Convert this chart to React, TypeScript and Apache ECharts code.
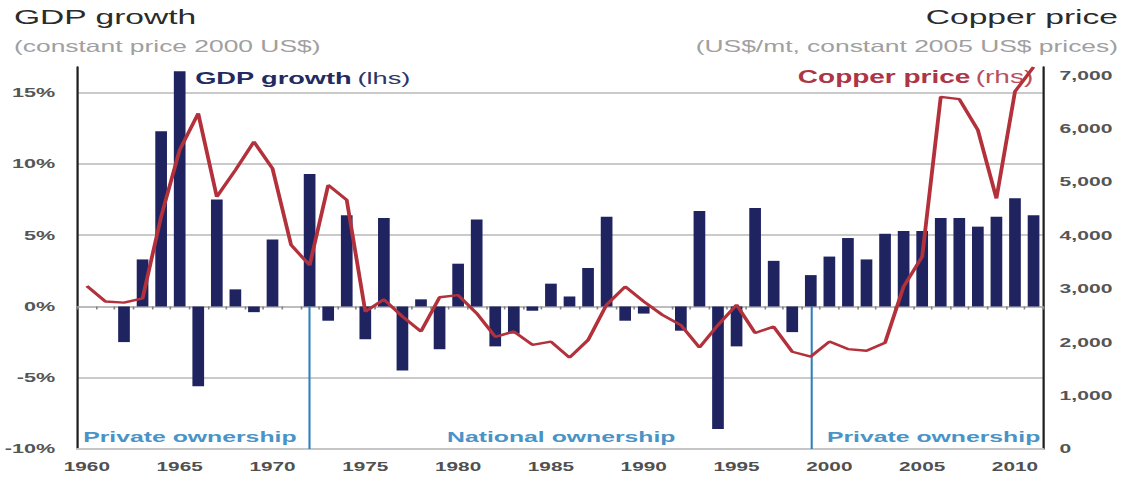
import React, { useEffect, useRef } from "react";
import * as echarts from "echarts";

const years = [
  "1960", "1961", "1962", "1963", "1964", "1965", "1966", "1967", "1968", "1969",
  "1970", "1971", "1972", "1973", "1974", "1975", "1976", "1977", "1978", "1979",
  "1980", "1981", "1982", "1983", "1984", "1985", "1986", "1987", "1988", "1989",
  "1990", "1991", "1992", "1993", "1994", "1995", "1996", "1997", "1998", "1999",
  "2000", "2001", "2002", "2003", "2004", "2005", "2006", "2007", "2008", "2009",
  "2010", "2011",
];

// GDP growth, % (lhs)
const gdpGrowth = [
  0, 0, -2.5, 3.3, 12.3, 16.5, -5.6, 7.5, 1.2, -0.4,
  4.7, 0, 9.3, -1.0, 6.4, -2.3, 6.2, -4.5, 0.5, -3.0,
  3.0, 6.1, -2.8, -1.9, -0.3, 1.6, 0.7, 2.7, 6.3, -1.0,
  -0.5, 0, -1.7, 6.7, -8.6, -2.8, 6.9, 3.2, -1.8, 2.2,
  3.5, 4.8, 3.3, 5.1, 5.3, 5.3, 6.2, 6.2, 5.6, 6.3,
  7.6, 6.4,
];

// Copper price, US$/mt constant 2005 prices (rhs)
const copperPrice = [
  3050, 2760, 2740, 2820, 4350, 5600, 6280, 4720, 5220, 5750,
  5250, 3820, 3440, 4940, 4660, 2570, 2800, 2480, 2200, 2840,
  2880, 2540, 2100, 2200, 1950, 2010, 1710, 2040, 2700, 3040,
  2760, 2510, 2320, 1900, 2320, 2700, 2170, 2290, 1820, 1730,
  2010, 1870, 1840, 1990, 3040, 3600, 6590, 6550, 5970, 4690,
  6690, 7150,
];

const ownershipBreaks = ["1972", "1999"];
const ownershipLabels = ["Private ownership", "National ownership", "Private ownership"];

const STRETCH = 1126 / 704;
const INNER_W = 704;
const FONT = '"Liberation Sans", Arial, Helvetica, sans-serif';

export default function App() {
  const ref = useRef<HTMLDivElement>(null);

  useEffect(() => {
    if (!ref.current) return;
    const chart = echarts.init(ref.current, null, { renderer: "svg" });

    const option: any = {
      animation: false,
      backgroundColor: "#ffffff",
      grid: { left: 47.5, right: 52, top: 67, bottom: 30 },
      xAxis: [
        {
          type: "category",
          data: years,
          boundaryGap: true,
          position: "bottom",
          axisLine: { show: true, onZero: true, lineStyle: { color: "#b8b8b8", width: 1.5 } },
          axisTick: { show: true, interval: 0, length: 3, lineStyle: { color: "#808080", width: 1 } },
          axisLabel: { show: false },
          splitLine: { show: false },
        },
        {
          type: "category",
          data: years,
          boundaryGap: true,
          position: "bottom",
          axisLine: { show: true, onZero: false, lineStyle: { color: "#c6c6c6", width: 2 } },
          axisTick: { show: false },
          axisLabel: {
            interval: 4,
            color: "#505050",
            fontSize: 13,
            fontWeight: "bold",
            fontFamily: FONT,
            margin: 11,
          },
          splitLine: { show: false },
        },
      ],
      yAxis: [
        {
          type: "value",
          position: "left",
          min: -10,
          max: 16.8,
          interval: 5,
          axisLine: { show: true, lineStyle: { color: "#1e1e1e", width: 1.4 } },
          axisTick: { show: false },
          axisLabel: {
            formatter: (v: number) => (Math.abs(v % 5) < 1e-9 ? `${v}%` : ""),
            color: "#555555",
            fontSize: 13.5,
            fontWeight: "bold",
            fontFamily: FONT,
            margin: 14,
          },
          splitLine: {
            show: true,
            showMinLine: false,
            showMaxLine: false,
            lineStyle: { color: "#cacaca", width: 2 },
          },
        },
        {
          type: "value",
          position: "right",
          min: 0,
          max: 7150,
          interval: 1000,
          axisLine: { show: true, lineStyle: { color: "#1e1e1e", width: 1.4 } },
          axisTick: { show: false },
          axisLabel: {
            formatter: (v: number) => (v % 1000 === 0 ? v.toLocaleString("en-US") : ""),
            color: "#555555",
            fontSize: 13.2,
            fontWeight: "bold",
            fontFamily: FONT,
            margin: 10.5,
          },
          splitLine: { show: false },
        },
      ],
      series: [
        {
          type: "bar",
          name: "GDP growth",
          data: gdpGrowth,
          xAxisIndex: 0,
          yAxisIndex: 0,
          barWidth: "63%",
          itemStyle: { color: "#1f2461" },
          clip: false,
          markLine: {
            silent: true,
            symbol: "none",
            label: { show: false },
            lineStyle: { color: "#2f82b8", width: 1.3, type: "solid" },
            data: ownershipBreaks.map((y) => [{ coord: [y, 0] }, { coord: [y, -10] }]),
          },
        },
        {
          type: "line",
          name: "Copper price",
          data: copperPrice,
          xAxisIndex: 0,
          yAxisIndex: 1,
          symbol: "none",
          clip: false,
          lineStyle: { color: "#b3313b", width: 2.4 },
          z: 5,
        },
      ],
      graphic: [
        {
          type: "text",
          x: 8.75,
          y: 17,
          style: { text: "GDP growth", font: `21px ${FONT}`, fill: "#2b2b2b", textAlign: "left", textVerticalAlign: "middle" },
        },
        {
          type: "text",
          x: 8.75,
          y: 46,
          style: { text: "(constant price 2000 US$)", font: `16.5px ${FONT}`, fill: "#a0a0a0", textAlign: "left", textVerticalAlign: "middle" },
        },
        {
          type: "text",
          x: 699,
          y: 17,
          style: { text: "Copper price", font: `21px ${FONT}`, fill: "#2b2b2b", textAlign: "right", textVerticalAlign: "middle" },
        },
        {
          type: "text",
          x: 699,
          y: 46,
          style: { text: "(US$/mt, constant 2005 US$ prices)", font: `16.5px ${FONT}`, fill: "#a0a0a0", textAlign: "right", textVerticalAlign: "middle" },
        },
        {
          type: "text",
          x: 122,
          y: 78,
          style: {
            text: "{a|GDP growth} {b|(lhs)}",
            textAlign: "left",
            textVerticalAlign: "middle",
            rich: {
              a: { fontFamily: FONT, fontSize: 17, fontWeight: "bold", fill: "#222a62" },
              b: { fontFamily: FONT, fontSize: 17, fontWeight: "normal", fill: "#2c3468" },
            },
          },
        },
        {
          type: "text",
          x: 646,
          y: 77,
          style: {
            text: "{a|Copper price} {b|(rhs)}",
            textAlign: "right",
            textVerticalAlign: "middle",
            rich: {
              a: { fontFamily: FONT, fontSize: 17.5, fontWeight: "bold", fill: "#ad3545" },
              b: { fontFamily: FONT, fontSize: 17.5, fontWeight: "normal", fill: "#b9505d" },
            },
          },
        },
        {
          type: "text",
          x: 52,
          y: 436,
          style: { text: ownershipLabels[0], font: `bold 15.5px ${FONT}`, fill: "#4a93c6", textAlign: "left", textVerticalAlign: "middle" },
        },
        {
          type: "text",
          x: 279.5,
          y: 436,
          style: { text: ownershipLabels[1], font: `bold 15.5px ${FONT}`, fill: "#4a93c6", textAlign: "left", textVerticalAlign: "middle" },
        },
        {
          type: "text",
          x: 517,
          y: 436,
          style: { text: ownershipLabels[2], font: `bold 15.5px ${FONT}`, fill: "#4a93c6", textAlign: "left", textVerticalAlign: "middle" },
        },
      ],
    };

    chart.setOption(option);
    return () => chart.dispose();
  }, []);

  return (
    <div
      style={{
        position: "fixed",
        left: 0,
        top: 0,
        width: 1126,
        height: 479,
        overflow: "hidden",
        background: "#ffffff",
      }}
    >
      <div
        ref={ref}
        style={{
          width: INNER_W,
          height: 479,
          transform: `scaleX(${STRETCH})`,
          transformOrigin: "0 0",
        }}
      />
    </div>
  );
}
